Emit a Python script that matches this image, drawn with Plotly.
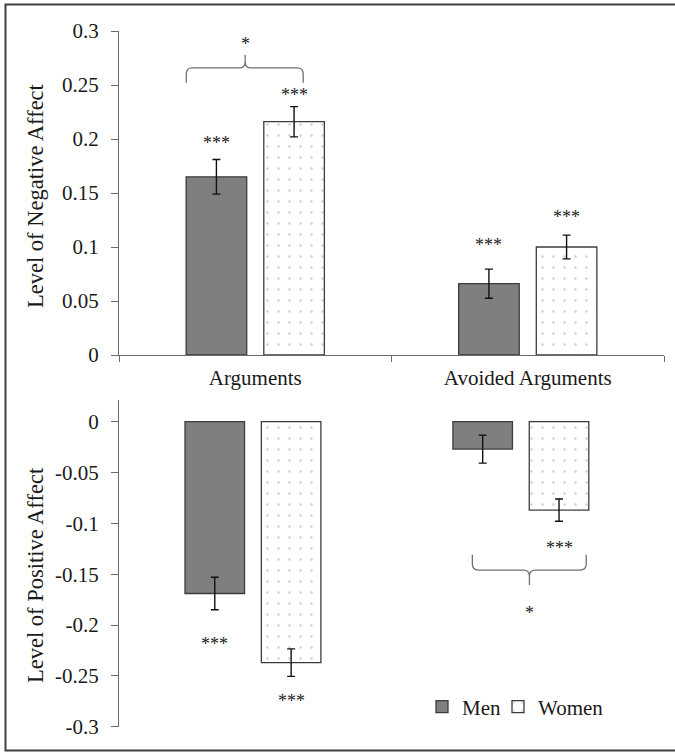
import plotly.graph_objects as go

# ---------------- data ----------------
categories = ["Arguments", "Avoided Arguments"]
neg_men = [0.165, 0.066]
neg_men_err = [0.016, 0.0135]
neg_women = [0.216, 0.100]
neg_women_err = [0.014, 0.011]
pos_men = [-0.169, -0.027]
pos_men_err = [0.016, 0.0138]
pos_women = [-0.237, -0.087]
pos_women_err = [0.0135, 0.011]

neg_ticks = [0, 0.05, 0.1, 0.15, 0.2, 0.25, 0.3]
neg_ticktext = ["0", "0.05", "0.1", "0.15", "0.2", "0.25", "0.3"]
pos_ticks = [0, -0.05, -0.1, -0.15, -0.2, -0.25, -0.3]
pos_ticktext = ["0", "-0.05", "-0.1", "-0.15", "-0.2", "-0.25", "-0.3"]

# significance labels (None = no label)
neg_men_sig = ["***", "***"]
neg_women_sig = ["***", "***"]
pos_men_sig = ["***", None]
pos_women_sig = ["***", "***"]

# ---------------- layout constants ----------------
W, H = 675, 753
FONT = "Liberation Serif"
TXT = "#1a1a1a"
AX = "#6a6a6a"
EDGE = "#3c3c3c"
MEN_FILL = "#7f7f7f"

X1_DOM = [119 / W, 664 / W]
X2_DOM = [119 / W, 654.8 / W]
Y1_DOM = [1 - 355 / H, 1 - 31 / H]
Y2_DOM = [1 - 726.7 / H, 1 - 400 / H]
Y1_RANGE = [0, 0.3]
Y2_RANGE = [-0.3, 0.0213]
X_RANGE = [-0.5, 1.5]
BARGAP = 0.43
BARGROUPGAP = 0.22
HALF = (1 - BARGAP) / 4  # offset of bar centre from category centre (index units)


def to_paper(xv, yv, xdom, ydom, yr):
    px = xdom[0] + (xv - X_RANGE[0]) / (X_RANGE[1] - X_RANGE[0]) * (xdom[1] - xdom[0])
    py = ydom[0] + (yv - yr[0]) / (yr[1] - yr[0]) * (ydom[1] - ydom[0])
    return px, py


fig = go.Figure()

err_style = dict(type="data", visible=True, color="#111111", thickness=1.4, width=4)
women_pattern = dict(shape=".", fgcolor="#a0a0a0", bgcolor="white", size=11, solidity=0.04)

fig.add_trace(go.Bar(
    x=categories, y=neg_men, name="Men", legendgroup="men", legend="legend",
    marker=dict(color=MEN_FILL, line=dict(color=EDGE, width=1.3)),
    error_y=dict(array=neg_men_err, **err_style), xaxis="x", yaxis="y"))
fig.add_trace(go.Bar(
    x=categories, y=neg_women, name="Women", legendgroup="women", legend="legend2",
    marker=dict(color="white", line=dict(color=EDGE, width=1.3), pattern=women_pattern),
    error_y=dict(array=neg_women_err, **err_style), xaxis="x", yaxis="y"))
fig.add_trace(go.Bar(
    x=categories, y=pos_men, name="Men", legendgroup="men", showlegend=False,
    marker=dict(color=MEN_FILL, line=dict(color=EDGE, width=1.3)),
    error_y=dict(array=pos_men_err, **err_style), xaxis="x2", yaxis="y2"))
fig.add_trace(go.Bar(
    x=categories, y=pos_women, name="Women", legendgroup="women", showlegend=False,
    marker=dict(color="white", line=dict(color=EDGE, width=1.3), pattern=women_pattern),
    error_y=dict(array=pos_women_err, **err_style), xaxis="x2", yaxis="y2"))

annotations = []
star_font = dict(family=FONT, size=18, color=TXT)


def add_stars(vals, errs, sigs, side, xref, yref, shifts):
    for i, (v, e, s) in enumerate(zip(vals, errs, sigs)):
        if s is None:
            continue
        yv = v + e if v >= 0 else v - e
        annotations.append(dict(x=i + side * HALF, y=yv, xref=xref, yref=yref, text=s,
                                showarrow=False, font=star_font, yshift=shifts[i],
                                xanchor="center", yanchor="middle"))


add_stars(neg_men, neg_men_err, neg_men_sig, -1, "x", "y", [17, 24])
add_stars(neg_women, neg_women_err, neg_women_sig, +1, "x", "y", [12, 18])
add_stars(pos_men, pos_men_err, pos_men_sig, -1, "x2", "y2", [-34, 0])
add_stars(pos_women, pos_women_err, pos_women_sig, +1, "x2", "y2", [-25, -27])

shapes = []


def brace(x0, x1, xc, y_end, y_h, y_peak, xdom, ydom, yr, r=6):
    ax0, ay_end = to_paper(x0, y_end, xdom, ydom, yr)
    ax1, _ = to_paper(x1, y_end, xdom, ydom, yr)
    axc, ay_h = to_paper(xc, y_h, xdom, ydom, yr)
    _, ay_peak = to_paper(xc, y_peak, xdom, ydom, yr)
    X = lambda p: p * W
    Y = lambda p: (1 - p) * H
    lx, rx, cx = X(ax0), X(ax1), X(axc)
    ye, yh, yp = Y(ay_end), Y(ay_h), Y(ay_peak)
    s = -1 if yp < yh else 1
    path_px = [
        ("M", lx, ye),
        ("L", lx, yh - s * r),
        ("Q", lx, yh, lx + r, yh),
        ("L", cx - r, yh),
        ("Q", cx, yh, cx, yh + s * r),
        ("L", cx, yp),
        ("M", cx, yp),
        ("L", cx, yh + s * r),
        ("Q", cx, yh, cx + r, yh),
        ("L", rx - r, yh),
        ("Q", rx, yh, rx, yh - s * r),
        ("L", rx, ye),
    ]
    out = []
    for cmd in path_px:
        nums = cmd[1:]
        parts = [f"{nums[k] / W:.5f},{1 - nums[k + 1] / H:.5f}" for k in range(0, len(nums), 2)]
        out.append(cmd[0] + " " + " ".join(parts))
    shapes.append(dict(type="path", xref="paper", yref="paper", path=" ".join(out),
                       line=dict(color="#707070", width=1.3)))


# brace over Arguments (top panel) and under Avoided Arguments (bottom panel)
brace(-0.253, 0.176, -0.037, 0.252, 0.2658, 0.278, X1_DOM, Y1_DOM, Y1_RANGE)
brace(0.819, 1.244, 1.032, -0.131, -0.146, -0.1607, X2_DOM, Y2_DOM, Y2_RANGE)
annotations.append(dict(x=-0.037, y=0.2908, xref="x", yref="y", text="*", showarrow=False,
                        font=star_font, yshift=-3, xanchor="center", yanchor="middle"))
annotations.append(dict(x=1.032, y=-0.185, xref="x2", yref="y2", text="*", showarrow=False,
                        font=star_font, yshift=-3, xanchor="center", yanchor="middle"))

# y-axis titles
title_font = dict(family=FONT, size=22.5, color=TXT)
annotations.append(dict(x=35 / W, y=1 - 196 / H, xref="paper", yref="paper", text="Level of Negative Affect",
                        textangle=-90, showarrow=False, font=title_font, xanchor="center", yanchor="middle"))
annotations.append(dict(x=35 / W, y=1 - 575 / H, xref="paper", yref="paper", text="Level of Positive Affect",
                        textangle=-90, showarrow=False, font=title_font, xanchor="center", yanchor="middle"))

# outer frame (right side lies beyond the image edge)
shapes.append(dict(type="rect", xref="paper", yref="paper", x0=5.5 / W, x1=690 / W,
                   y0=1 - 750.5 / H, y1=1 - 4.5 / H, line=dict(color="#404040", width=2)))

tick_font = dict(family=FONT, size=21, color=TXT)
legend_common = dict(orientation="h", xanchor="left", yanchor="middle", y=1 - 707 / H,
                     font=dict(family=FONT, size=21, color=TXT), bgcolor="rgba(0,0,0,0)")

fig.update_layout(
    width=W, height=H, margin=dict(l=0, r=0, t=0, b=0, autoexpand=False),
    paper_bgcolor="white", plot_bgcolor="white",
    barmode="group", bargap=BARGAP, bargroupgap=BARGROUPGAP,
    font=dict(family=FONT, color=TXT),
    showlegend=True,
    legend=dict(x=422 / W, **legend_common),
    legend2=dict(x=498 / W, **legend_common),
    xaxis=dict(domain=X1_DOM, anchor="y", type="category", range=X_RANGE,
               showline=True, linecolor=AX, linewidth=1.3, ticks="outside", tickson="boundaries",
               ticklen=6, tickcolor=AX, tickwidth=1.3, tickfont=tick_font, showgrid=False,
               zeroline=False, ticklabelstandoff=4),
    yaxis=dict(domain=Y1_DOM, anchor="x", range=Y1_RANGE, tickvals=neg_ticks, ticktext=neg_ticktext,
               showline=True, linecolor=AX, linewidth=1.3, ticks="outside", ticklen=7, tickcolor=AX,
               tickwidth=1.3, tickfont=tick_font, showgrid=False, zeroline=False, ticklabelstandoff=8),
    xaxis2=dict(domain=X2_DOM, anchor="y2", type="category", range=X_RANGE, visible=False),
    yaxis2=dict(domain=Y2_DOM, anchor="x2", range=Y2_RANGE, tickvals=pos_ticks, ticktext=pos_ticktext,
                showline=True, linecolor=AX, linewidth=1.3, ticks="outside", ticklen=7, tickcolor=AX,
                tickwidth=1.3, tickfont=tick_font, showgrid=False, zeroline=False, ticklabelstandoff=8),
    annotations=annotations,
    shapes=shapes,
)

fig.write_html("out.html", config={"displayModeBar": False},
               post_script="document.body.style.margin='0';document.body.style.overflow='hidden';")
